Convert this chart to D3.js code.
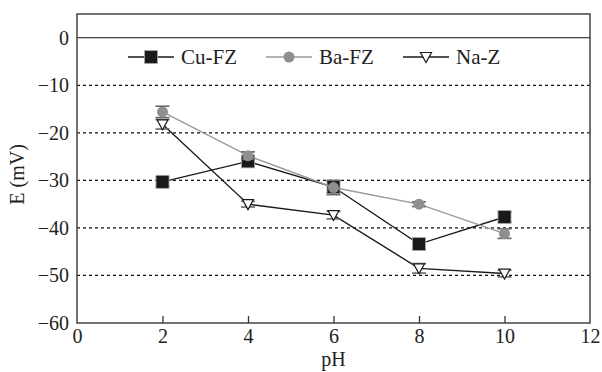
<!DOCTYPE html>
<html>
<head>
<meta charset="utf-8">
<script src="https://cdn.jsdelivr.net/npm/d3@7"></script>
</head>
<body style="margin:0">
<svg id="chart" width="602" height="372" style="display:block"></svg>
<script>
// Zeta potential of the three zeolites versus pH
const pH = [2, 4, 6, 8, 10];
const seriesNames = ["Cu-FZ", "Ba-FZ", "Na-Z"];
const cuFZ = [-30.3, -26.0, -31.4, -43.4, -37.7];
const baFZ = [-15.6, -24.8, -31.5, -35.0, -41.2];
const naZ  = [-18.2, -35.0, -37.3, -48.5, -49.6];
const cuErr = [1.0, 1.0, 1.2, 1.0, 1.0];
const baErr = [1.2, 0.8, 1.5, 0.5, 1.0];
const naErr = [1.0, 0.6, 0.8, 1.0, 0.7];
const xTicks = [0, 2, 4, 6, 8, 10, 12];
const yTicks = [0, -10, -20, -30, -40, -50, -60];

const svg = d3.select("#chart");
const m = { left: 77, right: 590, top: 14, bottom: 323 };
const FONT = '"Liberation Serif", "Times New Roman", serif';

// every label uses the serif face
function serifText(sel, size) {
  return sel.attr("font-family", FONT).attr("font-size", size)
    .style("font-family", FONT, "important")
    .style("font-size", size + "px", "important")
    .attr("fill", "#222");
}

const x = d3.scaleLinear().domain([0, 12]).range([m.left, m.right]);
const y = d3.scaleLinear().domain([-60, 5]).range([m.bottom, m.top]);

// grid lines
svg.append("g").selectAll("line")
  .data(yTicks.filter(v => v !== -60))
  .join("line")
  .attr("x1", m.left).attr("x2", m.right)
  .attr("y1", d => y(d)).attr("y2", d => y(d))
  .attr("stroke", "#111")
  .attr("stroke-width", 1.2)
  .attr("stroke-dasharray", d => d === 0 ? null : "3,3");

// frame
svg.append("rect")
  .attr("x", m.left).attr("y", m.top)
  .attr("width", m.right - m.left).attr("height", m.bottom - m.top)
  .attr("fill", "none").attr("stroke", "#444").attr("stroke-width", 1.5);

// x axis: inward ticks
const xAxis = d3.axisBottom(x).tickValues(xTicks).tickSize(-7).tickPadding(6).tickFormat(d3.format("d"));
const gx = svg.append("g").attr("transform", `translate(0,${m.bottom})`).call(xAxis)
  .attr("font-family", FONT);
gx.select(".domain").remove();
gx.selectAll(".tick line").attr("stroke", "#333").attr("stroke-width", 1.3)
  .filter(d => d === 0 || d === 12).remove();
serifText(gx.selectAll(".tick text"), 20);

// y axis labels
const fmt = d => d < 0 ? "\u2212" + Math.abs(d) : String(d);
const yAxis = d3.axisLeft(y).tickValues(yTicks).tickSize(0).tickPadding(8).tickFormat(fmt);
const gy = svg.append("g").attr("transform", `translate(${m.left},0)`).call(yAxis)
  .attr("font-family", FONT);
gy.select(".domain").remove();
serifText(gy.selectAll(".tick text"), 20);

// axis titles
serifText(svg.append("text"), 20)
  .attr("x", (m.left + m.right) / 2).attr("y", 366)
  .attr("text-anchor", "middle").text("pH");
serifText(svg.append("text"), 20)
  .attr("transform", `translate(24,${(y(0) + m.bottom) / 2 - 6}) rotate(-90)`)
  .attr("text-anchor", "middle").text("E (mV)");

const line = d3.line().x((d, i) => x(pH[i])).y(d => y(d));
const series = [
  { name: seriesNames[0], vals: cuFZ, err: cuErr, color: "#1a1a1a", marker: "square" },
  { name: seriesNames[1], vals: baFZ, err: baErr, color: "#999", marker: "circle" },
  { name: seriesNames[2], vals: naZ, err: naErr, color: "#1a1a1a", marker: "tri" }
];

function drawMarker(g, type, cx, cy) {
  if (type === "square") {
    g.append("rect").attr("x", cx - 6.5).attr("y", cy - 6.5).attr("width", 13).attr("height", 13)
      .attr("fill", "#1a1a1a").attr("stroke", "#aaa").attr("stroke-width", 0.8);
  } else if (type === "circle") {
    g.append("circle").attr("cx", cx).attr("cy", cy).attr("r", 5.5).attr("fill", "#8f8f8f");
  } else {
    g.append("path")
      .attr("d", `M${cx - 5.5},${cy - 4.5}L${cx + 5.5},${cy - 4.5}L${cx},${cy + 5.5}Z`)
      .attr("fill", "#fff").attr("stroke", "#1a1a1a").attr("stroke-width", 1.2);
  }
}

series.forEach(s => {
  const g = svg.append("g");
  g.append("path").datum(s.vals).attr("d", line)
    .attr("fill", "none").attr("stroke", s.color).attr("stroke-width", 1.4);
  // error bars
  s.vals.forEach((v, i) => {
    const cx = x(pH[i]);
    const y1 = y(v + s.err[i]), y2 = y(v - s.err[i]);
    g.append("line").attr("x1", cx).attr("x2", cx).attr("y1", y1).attr("y2", y2)
      .attr("stroke", "#555").attr("stroke-width", 1.2);
    [y1, y2].forEach(yy => g.append("line")
      .attr("x1", cx - 7).attr("x2", cx + 7).attr("y1", yy).attr("y2", yy)
      .attr("stroke", "#666").attr("stroke-width", 1.6));
  });
  s.vals.forEach((v, i) => drawMarker(g, s.marker, x(pH[i]), y(v)));
});

// legend
const legendY = 57;
const legendPos = [128, 266, 403];
series.forEach((s, i) => {
  const lx = legendPos[i];
  const g = svg.append("g");
  g.append("line").attr("x1", lx).attr("x2", lx + 46).attr("y1", legendY).attr("y2", legendY)
    .attr("stroke", s.color).attr("stroke-width", 1.4);
  drawMarker(g, s.marker, lx + 23, legendY);
  serifText(g.append("text"), 21).attr("x", lx + 53).attr("y", legendY + 7).text(s.name);
});
</script>
</body>
</html>
